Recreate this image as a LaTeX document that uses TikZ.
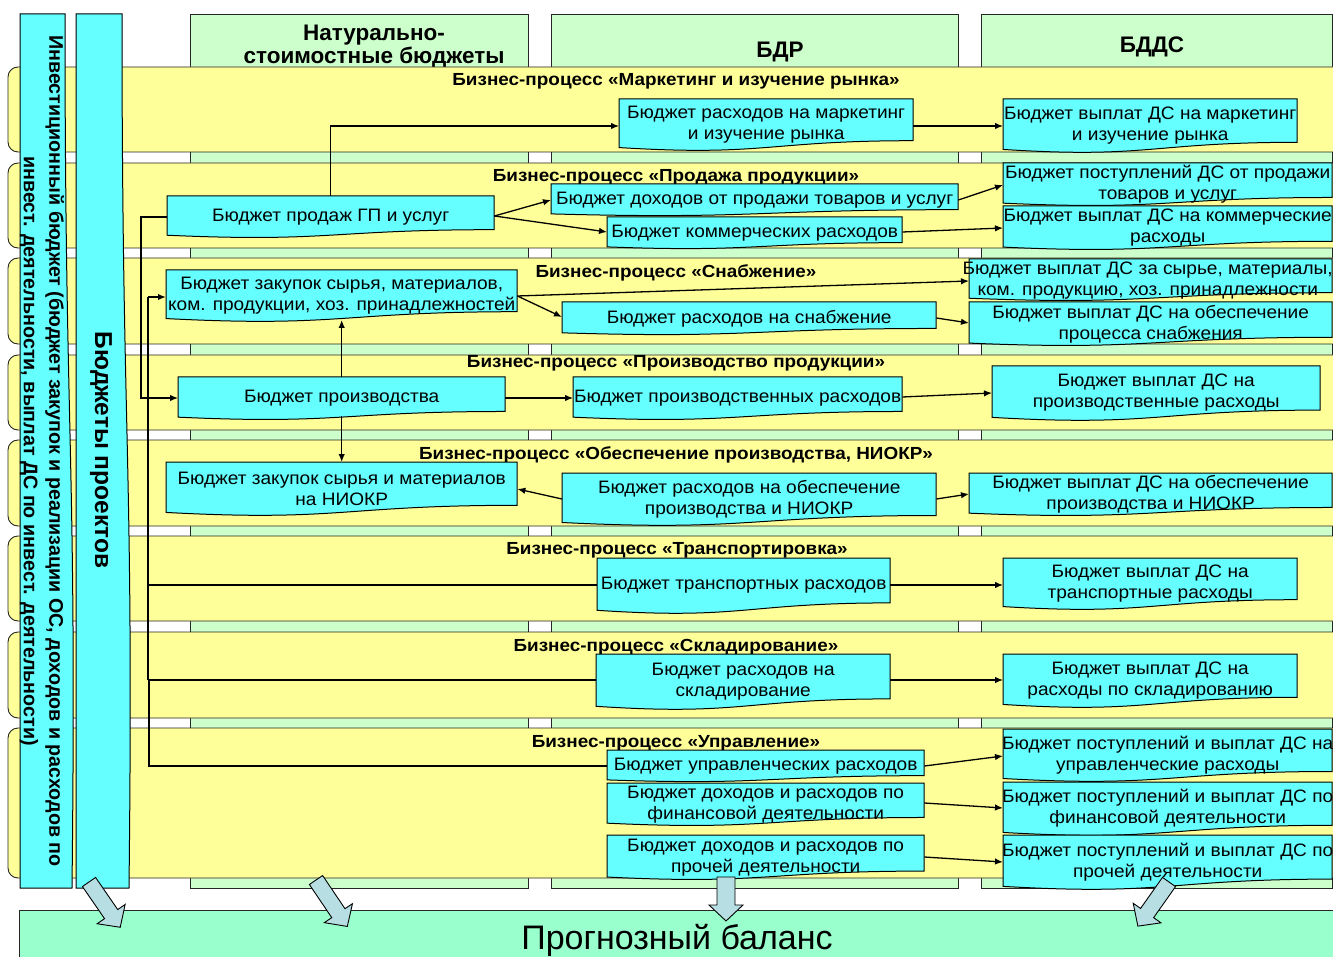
\documentclass[tikz,border=0pt]{standalone}
\usepackage{fontspec}
\setmainfont{Liberation Sans}
\newfontfamily\boxfont[FakeStretch=1.06]{Liberation Sans}
\newfontfamily\titlefont[FakeStretch=1.08]{Liberation Sans}
\usetikzlibrary{calc,arrows.meta}

\definecolor{bandyellow}{HTML}{FFFF99}
\definecolor{colgreen}{HTML}{CCFFCC}
\definecolor{boxcyan}{HTML}{66FFFF}
\definecolor{balgreen}{HTML}{99FFCC}
\definecolor{arrowblue}{HTML}{B7DEE3}

\tikzset{
  docshape/.style={fill=boxcyan, draw=black, line width=1pt},
  docanchor/.style={inner sep=0pt, draw=none},
  doctext/.style={inner sep=0pt, align=center, yshift=-2pt, font=\boxfont\fontsize{18}{21}\selectfont},
  band/.style={fill=bandyellow, draw=black!85, line width=0.9pt, rounded corners=10pt},
  column/.style={fill=colgreen, draw=black!85, line width=0.9pt},
  conn/.style={draw=black, line width=1.3pt, -{Latex[length=8pt,width=6.5pt]}},
  link/.style={draw=black, line width=1.3pt},
  trunk/.style={draw=black, line width=2.4pt},
  proctitle/.style={anchor=base, inner sep=0pt, font=\titlefont\fontsize{17.5}{20}\selectfont\bfseries},
  header/.style={anchor=base, inner sep=0pt, font=\fontsize{22.5}{24}\selectfont\bfseries},
  bigarrow/.style={fill=arrowblue, draw=black, line width=0.9pt},
}

% cyan "document" box: [text options] name, left, top, right, full height, text
\newcommand\docbox[7][]{%
  \pgfmathsetmacro\dbA{#4+0.802*#6}%
  \pgfmathsetmacro\dbB{#4+1.107*#6}%
  \pgfmathsetmacro\dbC{#4+0.934*#6}%
  \pgfmathsetmacro\dbM{(#3+#5)/2}%
  \pgfmathsetmacro\dbW{#5-#3}%
  \pgfmathsetmacro\dbH{0.9*#6}%
  \filldraw[docshape] (#3,#4) -- (#5,#4) -- (#5,\dbA) .. controls (\dbM,\dbA) and (\dbM,\dbB) .. (#3,\dbC) -- cycle;
  \node[docanchor, minimum width=\dbW pt, minimum height=\dbH pt, anchor=north west] (#2) at (#3,#4) {};
  \node[doctext,#1] at (#2.center) {#7};
}

% wide block arrow: tail x, tail y, direction angle, length, shaft half width
\newcommand\blockarrow[5]{%
  \begin{scope}[shift={(#1,#2)}, rotate=#3]
    \filldraw[bigarrow] (0,-#5) -- ({#4-16},-#5) -- ({#4-16},-17) -- (#4,0)
      -- ({#4-16},17) -- ({#4-16},#5) -- (0,#5) -- cycle;
  \end{scope}}

\begin{document}
\begin{tikzpicture}[x=1pt, y=-1pt]
\useasboundingbox (0,0) rectangle (1333,957);

% budget columns
\filldraw[column] (190,14) rectangle (528,888);
\filldraw[column] (551,14) rectangle (958,888);
\filldraw[column] (981,14) rectangle (1332,888);

\node[header] (h1a) at (374,40.5) {Натурально-};
\node[header] (h1b) at (374,64) {стоимостные бюджеты};
\node[header] (h2) at (780,58) {БДР};
\node[header] (h3) at (1152,53) {БДДС};

% business process bands
\filldraw[band] (8,67) rectangle (1370,152);
\filldraw[band] (8,163) rectangle (1370,248);
\filldraw[band] (8,258) rectangle (1370,344);
\filldraw[band] (8,355) rectangle (1370,430);
\filldraw[band] (8,440) rectangle (1370,526);
\filldraw[band] (8,536) rectangle (1370,621);
\filldraw[band] (8,632) rectangle (1370,718);
\filldraw[band] (8,728) rectangle (1370,878);

\node[proctitle] (p1) at (676,86) {Бизнес-процесс «Маркетинг и изучение рынка»};
\node[proctitle] (p2) at (676,182) {Бизнес-процесс «Продажа продукции»};
\node[proctitle] (p3) at (676,278) {Бизнес-процесс «Снабжение»};
\node[proctitle] (p4) at (676,368) {Бизнес-процесс «Производство продукции»};
\node[proctitle] (p5) at (676,459) {Бизнес-процесс «Обеспечение производства, НИОКР»};
\node[proctitle] (p6) at (677,554) {Бизнес-процесс «Транспортировка»};
\node[proctitle] (p7) at (676,651) {Бизнес-процесс «Складирование»};
\node[proctitle] (p8) at (676,747) {Бизнес-процесс «Управление»};

% vertical bars
\filldraw[docshape] (20,14) -- (65,14) .. controls (65,451) and (77,451) .. (72,888) -- (20,888) -- cycle;
\filldraw[docshape] (76,14) -- (122,14) .. controls (122,451) and (134,451) .. (129,888) -- (76,888) -- cycle;
\node[rotate=-90, align=center, inner sep=0pt, font=\fontsize{19.7}{25.5}\selectfont\bfseries] (inv) at (42,451)
  {Инвестиционный бюджет (бюджет закупок и реализации ОС, доходов и расходов по\\инвест. деятельности, выплат ДС по инвест. деятельности)};
\node[rotate=-90, inner sep=0pt, font=\fontsize{24.5}{26}\selectfont\bfseries] (proj) at (101,450) {Бюджеты проектов};

% natural-cost budgets
\docbox{A1}{167}{196}{494}{42}{Бюджет продаж ГП и услуг}
\docbox{A2}{166}{270}{517}{52}{Бюджет закупок сырья, материалов,\\ком. продукции, хоз. принадлежностей}
\docbox{A3}{178}{377}{505}{43}{Бюджет производства}
\docbox{A4}{166}{462}{517}{54}{Бюджет закупок сырья и материалов\\на НИОКР}

% income statement budgets
\docbox{B1}{619}{99}{913}{52}{Бюджет расходов на маркетинг\\и изучение рынка}
\docbox{B2}{551}{184}{958}{32}{Бюджет доходов от продажи товаров и услуг}
\docbox{B3}{607}{217}{902}{32}{Бюджет коммерческих расходов}
\docbox{B4}{562}{302}{936}{33}{Бюджет расходов на снабжение}
\docbox{B5}{573}{377}{902}{43}{Бюджет производственных расходов}
\docbox{B6}{562}{473}{936}{53}{Бюджет расходов на обеспечение\\производства и НИОКР}
\docbox{B7}{597}{558}{890}{56}{Бюджет транспортных расходов}
\docbox{B8}{596}{654}{890}{56}{Бюджет расходов на\\складирование}
\docbox{B9}{607}{750}{924}{32}{Бюджет управленческих расходов}
\docbox{B10}{607}{783}{924}{43}{Бюджет доходов и расходов по\\финансовой деятельности}
\docbox{B11}{607}{835}{924}{45}{Бюджет доходов и расходов по\\прочей деятельности}

% cash flow budgets
\docbox{C1}{1003}{99}{1297}{54}{Бюджет выплат ДС на маркетинг\\и изучение рынка}
\docbox{C2}{1003}{163}{1332}{43}{Бюджет поступлений ДС от продажи\\товаров и услуг}
\docbox{C3}{1003}{206}{1332}{44}{Бюджет выплат ДС на коммерческие\\расходы}
\docbox[xshift=-3pt]{C4}{969}{259}{1332}{42}{Бюджет выплат ДС за сырье, материалы,\\ком. продукцию, хоз. принадлежности}
\docbox{C5}{969}{302}{1332}{44}{Бюджет выплат ДС на обеспечение\\процесса снабжения}
\docbox{C6}{992}{366}{1320}{55}{Бюджет выплат ДС на\\производственные расходы}
\docbox{C7}{969}{473}{1332}{43}{Бюджет выплат ДС на обеспечение\\производства и НИОКР}
\docbox{C8}{1003}{558}{1297}{52}{Бюджет выплат ДС на\\транспортные расходы}
\docbox{C9}{1003}{654}{1297}{54}{Бюджет выплат ДС на\\расходы по складированию}
\docbox{C10}{1003}{729}{1332}{53}{Бюджет поступлений и выплат ДС на\\управленческие расходы}
\docbox{C11}{1003}{782}{1332}{54}{Бюджет поступлений и выплат ДС по\\финансовой деятельности}
\docbox{C12}{1003}{835}{1332}{55}{Бюджет поступлений и выплат ДС по\\прочей деятельности}

% connectors
\draw[conn] (A1.north) |- (B1.west |- 0,126);
\draw[conn] (B1.east |- 0,126) -- (C1.west |- 0,126);
\draw[conn] (A1.east |- 0,216) -- (B2.west |- 0,200);
\draw[conn] (A1.east |- 0,216) -- (B3.west |- 0,232);
\draw[conn] (B2.east |- 0,200) -- (C2.west |- 0,185);
\draw[conn] (B3.east |- 0,232) -- (C3.west |- 0,228);
\draw[conn] (A2.east |- 0,296) -- (C4.west |- 0,281);
\draw[conn] (A2.east |- 0,296) -- (B4.west |- 0,317);
\draw[conn] (B4.east |- 0,318) -- (C5.west |- 0,323);
\draw[conn] (A3.north) -- (A2.south |- 0,320);
\draw[conn] (A3.south |- 0,416) -- (A4.north);
\draw[conn] (A3.east |- 0,398) -- (B5.west |- 0,398);
\draw[conn] (B5.east |- 0,397) -- (C6.west |- 0,393);
\draw[conn] (B6.west |- 0,499) -- (A4.east |- 0,489);
\draw[conn] (B6.east |- 0,499) -- (C7.west |- 0,494);
\draw[conn] (B9.east |- 0,766) -- (C10.west |- 0,756);
\draw[conn] (B10.east |- 0,803) -- (C11.west |- 0,808);
\draw[conn] (B11.east |- 0,857) -- (C12.west |- 0,862);

% feed lines on the left
\coordinate (fA) at (141,217);
\coordinate (fB) at (141,398);
\coordinate (tTop) at (148,297);
\coordinate (tMid) at (148,585);
\coordinate (tBot) at (148,680);
\coordinate (tEnd) at (149,766);
\draw[conn] (A1.west |- fA) -- (fA) -- (fB) -- (A3.west |- fB);
\draw[trunk] (tBot) -- (tTop);
\draw[conn, line width=2.2pt] (tTop) -- (A2.west |- tTop);
\draw[link] (tMid) -- (B7.west |- tMid);
\draw[conn] (B7.east |- tMid) -- (C8.west |- tMid);
\draw[link, line width=2.2pt] (tBot) -- (B8.west |- tBot);
\draw[conn] (B8.east |- tBot) -- (C9.west |- tBot);
\draw[link] (149,680) -- (tEnd) -- (B9.west |- tEnd);

% forecast balance
\filldraw[fill=balgreen, draw=black!85, line width=0.9pt] (19,910) rectangle (1370,990);
\node[anchor=base, inner sep=0pt, font=\fontsize{34}{36}\selectfont] (bal) at (677,949) {Прогнозный баланс};

\blockarrow{89}{882}{-55.4}{55}{8}
\blockarrow{316}{880}{-56}{56}{8}
\blockarrow{726}{877}{-90}{44}{9}
\blockarrow{1169}{882}{-125.2}{54}{8}
\end{tikzpicture}
\end{document}
